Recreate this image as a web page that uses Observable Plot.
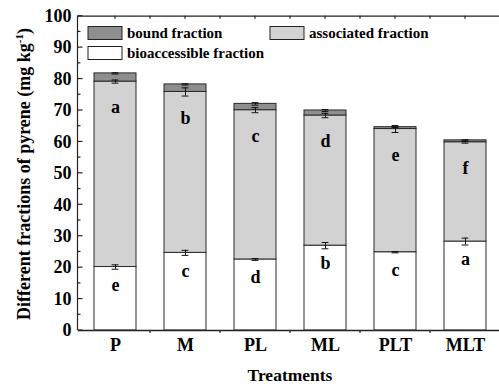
<!DOCTYPE html>
<html>
<head>
<meta charset="utf-8">
<script src="https://cdn.jsdelivr.net/npm/d3@7"></script>
<script src="https://cdn.jsdelivr.net/npm/@observablehq/plot@0.6"></script>
<style>
  html, body { margin: 0; padding: 0; background: #fff; }
  #chart { width: 499px; height: 388px; }
</style>
</head>
<body>
<div id="chart"></div>
<script>
const treatments = ["P", "M", "PL", "ML", "PLT", "MLT"];
const bioaccessible = [20.2, 24.7, 22.6, 27.0, 24.9, 28.3];
const associated = [59.0, 51.2, 47.5, 41.4, 39.2, 31.6];
const bound = [2.6, 2.4, 2.0, 1.6, 0.6, 0.6];
const bioErr = [0.7, 0.8, 0.3, 1.0, 0.2, 1.1];
const assocErr = [0.5, 1.3, 0.8, 0.7, 1.1, 0.3];
const boundErr = [0.2, 0.2, 0.4, 0.3, 0.1, 0.2];
const bioLetters = ["e", "c", "d", "b", "c", "a"];
const assocLetters = ["a", "b", "c", "d", "e", "f"];
const seriesNames = ["bioaccessible fraction", "associated fraction", "bound fraction"];
const seriesColors = ["#ffffff", "#d2d2d2", "#8e8e8e"];
const yTicks = [0, 10, 20, 30, 40, 50, 60, 70, 80, 90, 100];
const yMinorTicks = [5, 15, 25, 35, 45, 55, 65, 75, 85, 95];

const rows = treatments.flatMap((t, i) => [
  {t, f: seriesNames[0], v: bioaccessible[i]},
  {t, f: seriesNames[1], v: associated[i]},
  {t, f: seriesNames[2], v: bound[i]}
]);
const errs = treatments.flatMap((t, i) => [
  {t, y: bioaccessible[i], e: bioErr[i]},
  {t, y: bioaccessible[i] + associated[i], e: assocErr[i]},
  {t, y: bioaccessible[i] + associated[i] + bound[i], e: boundErr[i]}
]);
const bioLab = treatments.map((t, i) => ({t, y: bioaccessible[i], s: bioLetters[i]}));
const assocLab = treatments.map((t, i) => ({t, y: bioaccessible[i] + associated[i], s: assocLetters[i]}));

const font = "'Liberation Serif', 'Times New Roman', serif";
const capInset = 17.6;

const plot = Plot.plot({
  width: 499,
  height: 388,
  marginLeft: 78,
  marginRight: 0,
  marginTop: 15.7,
  marginBottom: 58,
  style: {fontFamily: font, fontWeight: "bold", fontSize: "18px", color: "#000", background: "#fff"},
  x: {domain: treatments, range: [78, 501.5], paddingInner: 0.4, paddingOuter: 0.2, label: null},
  y: {domain: [0, 100], label: null},
  color: {domain: seriesNames, range: seriesColors},
  marks: [
    Plot.barY(rows, {x: "t", y: "v", fill: "f", stroke: "#2a2a2a", strokeWidth: 1, order: seriesNames}),
    Plot.ruleX(errs, {x: "t", y1: d => d.y - d.e, y2: d => d.y + d.e, stroke: "#111", strokeWidth: 1}),
    Plot.tickY(errs, {x: "t", y: d => d.y - d.e, insetLeft: capInset, insetRight: capInset, stroke: "#111", strokeWidth: 1}),
    Plot.tickY(errs, {x: "t", y: d => d.y + d.e, insetLeft: capInset, insetRight: capInset, stroke: "#111", strokeWidth: 1}),
    Plot.text(assocLab, {x: "t", y: "y", text: "s", dy: 26, fontSize: 18, fontWeight: "bold", fill: "#000"}),
    Plot.text(bioLab, {x: "t", y: "y", text: "s", dy: 18, fontSize: 18, fontWeight: "bold", fill: "#000"}),
    Plot.ruleY([0, 100], {stroke: "#222", strokeWidth: 1.3}),
    Plot.axisY({ticks: yTicks, tickSize: 0, tickPadding: 7, fontSize: 18, label: null}),
    Plot.axisX({tickSize: 0, tickPadding: 8, fontSize: 18, label: null})
  ]
});

const svg = d3.select(plot);
const xs = plot.scale("x");
const ys = plot.scale("y");
const bw = xs.bandwidth;
const step = xs.step;
const centers = treatments.map(t => xs.apply(t) + bw / 2);
const g = svg.append("g").attr("stroke", "#222").attr("stroke-width", 1.2);
const x0 = 77.5;
g.append("line").attr("x1", x0).attr("x2", x0).attr("y1", ys.apply(100)).attr("y2", ys.apply(0));
yTicks.forEach(v => g.append("line").attr("x1", x0).attr("x2", x0 + 5).attr("y1", ys.apply(v)).attr("y2", ys.apply(v)));
yMinorTicks.forEach(v => g.append("line").attr("x1", x0).attr("x2", x0 + 3).attr("y1", ys.apply(v)).attr("y2", ys.apply(v)));
const mids = centers.slice(0, -1).map(c => c + step / 2);
centers.concat(mids).forEach(px => g.append("line").attr("x1", px).attr("x2", px).attr("y1", ys.apply(100)).attr("y2", ys.apply(100) + 3));
mids.forEach(px => g.append("line").attr("x1", px).attr("x2", px).attr("y1", ys.apply(0)).attr("y2", ys.apply(0) + 3));

const legend = [
  {name: seriesNames[2], color: seriesColors[2], x: 88, y: 26.5},
  {name: seriesNames[1], color: seriesColors[1], x: 270, y: 26.5},
  {name: seriesNames[0], color: seriesColors[0], x: 88, y: 46.5}
];
const lg = svg.append("g");
legend.forEach(d => {
  lg.append("rect").attr("x", d.x).attr("y", d.y).attr("width", 34).attr("height", 13)
    .attr("fill", d.color).attr("stroke", "#222").attr("stroke-width", 1);
  lg.append("text").attr("x", d.x + 39).attr("y", d.y + 11.5)
    .attr("text-anchor", "start")
    .style("font-family", font).style("font-weight", "bold").style("font-size", "15px").style("fill", "#000")
    .text(d.name);
});

svg.append("text").attr("x", 290).attr("y", 381).attr("text-anchor", "middle")
  .style("font-family", font).style("font-weight", "bold").style("font-size", "17.5px").style("fill", "#000")
  .text("Treatments");
const yt = svg.append("text").attr("transform", "translate(30,174) rotate(-90)").attr("text-anchor", "middle")
  .style("font-family", font).style("font-weight", "bold").style("font-size", "18px").style("fill", "#000");
yt.append("tspan").text("Different fractions of pyrene (mg kg");
yt.append("tspan").attr("dy", -7).style("font-size", "11px").text("-1");
yt.append("tspan").attr("dy", 7).text(")");

document.getElementById("chart").appendChild(plot);
</script>
</body>
</html>
